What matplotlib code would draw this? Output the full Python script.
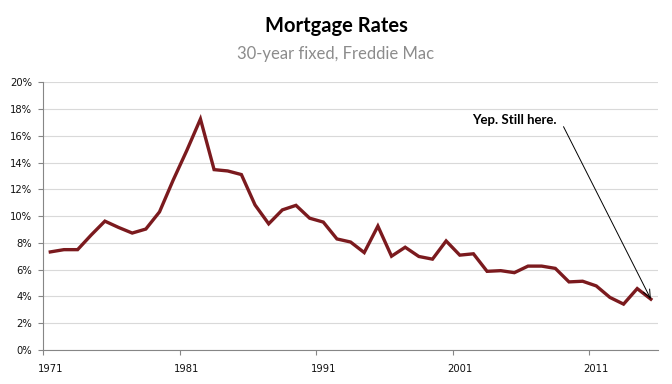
import matplotlib.pyplot as plt
import numpy as np

# annual 30-year fixed rates (%)
years = list(range(1971, 2016))
rates = [7.33, 7.50, 7.50, 8.60, 9.63, 9.16, 8.74, 9.04, 10.32, 12.69, 14.91, 17.26,
         13.48, 13.38, 13.11, 10.84, 9.43, 10.47, 10.81, 9.85, 9.56, 8.30, 8.07,
         7.28, 9.26, 7.01, 7.68, 6.99, 6.79, 8.15, 7.09, 7.19, 5.88, 5.93,
         5.78, 6.27, 6.27, 6.10, 5.09, 5.14, 4.79, 3.93, 3.43, 4.59, 3.80]
label_years = ['1971', '1981', '1991', '2001', '2011']
y_ticks = [0, 2, 4, 6, 8, 10, 12, 14, 16, 18, 20]

fig = plt.figure(figsize=(6.72, 3.84), dpi=100)
ax = fig.add_axes([0.0647, 0.0885, 0.914, 0.697])

x = np.arange(len(years)) + 0.5  # category centres
ax.plot(x, rates, color='#7B1A1E', lw=2.4, solid_joinstyle='miter', zorder=3)

ax.set_xlim(0, len(years))
ax.set_ylim(0, 20)
ax.set_yticks(y_ticks)
ax.set_yticklabels([f'{v}%' for v in y_ticks])
ax.yaxis.grid(True, color='#D9D9D9', lw=0.8)
ax.set_axisbelow(True)

# major ticks on category borders, labels at category centres
ax.set_xticks([0, 10, 20, 30, 40])
ax.set_xticklabels([])
ax.set_xticks([0.5, 10.5, 20.5, 30.5, 40.5], minor=True)
ax.set_xticklabels(label_years, minor=True)
ax.tick_params(axis='x', which='major', length=3.5, color='#868686', width=0.8)
ax.tick_params(axis='x', which='minor', length=0, pad=10)
ax.tick_params(axis='y', length=3.4, color='#868686', width=0.8, pad=5)
ax.tick_params(which='both', labelsize=7.2, labelcolor='#111111')

for s in ['top', 'right']:
    ax.spines[s].set_visible(False)
for s in ['left', 'bottom']:
    ax.spines[s].set_color('#868686')
    ax.spines[s].set_linewidth(0.8)

fig.text(0.5, 0.916, 'Mortgage Rates', ha='center', va='baseline',
         family='Lato', weight='bold', fontsize=14.5)
fig.text(0.5, 0.846, '30-year fixed, Freddie Mac', ha='center', va='baseline',
         family='Lato', fontsize=12, color='#8C8C8C')

ax.text(31.4, 16.9, 'Yep. Still here.', ha='left', va='baseline',
        family='Lato', weight='bold', fontsize=9.5)
ax.annotate('', xy=(x[-1], rates[-1]), xytext=(38.1, 16.69),
            arrowprops=dict(arrowstyle='->,head_length=0.6,head_width=0.25',
                            color='black', lw=0.7, shrinkA=0, shrinkB=0))

fig.savefig('out.png', dpi=100)
